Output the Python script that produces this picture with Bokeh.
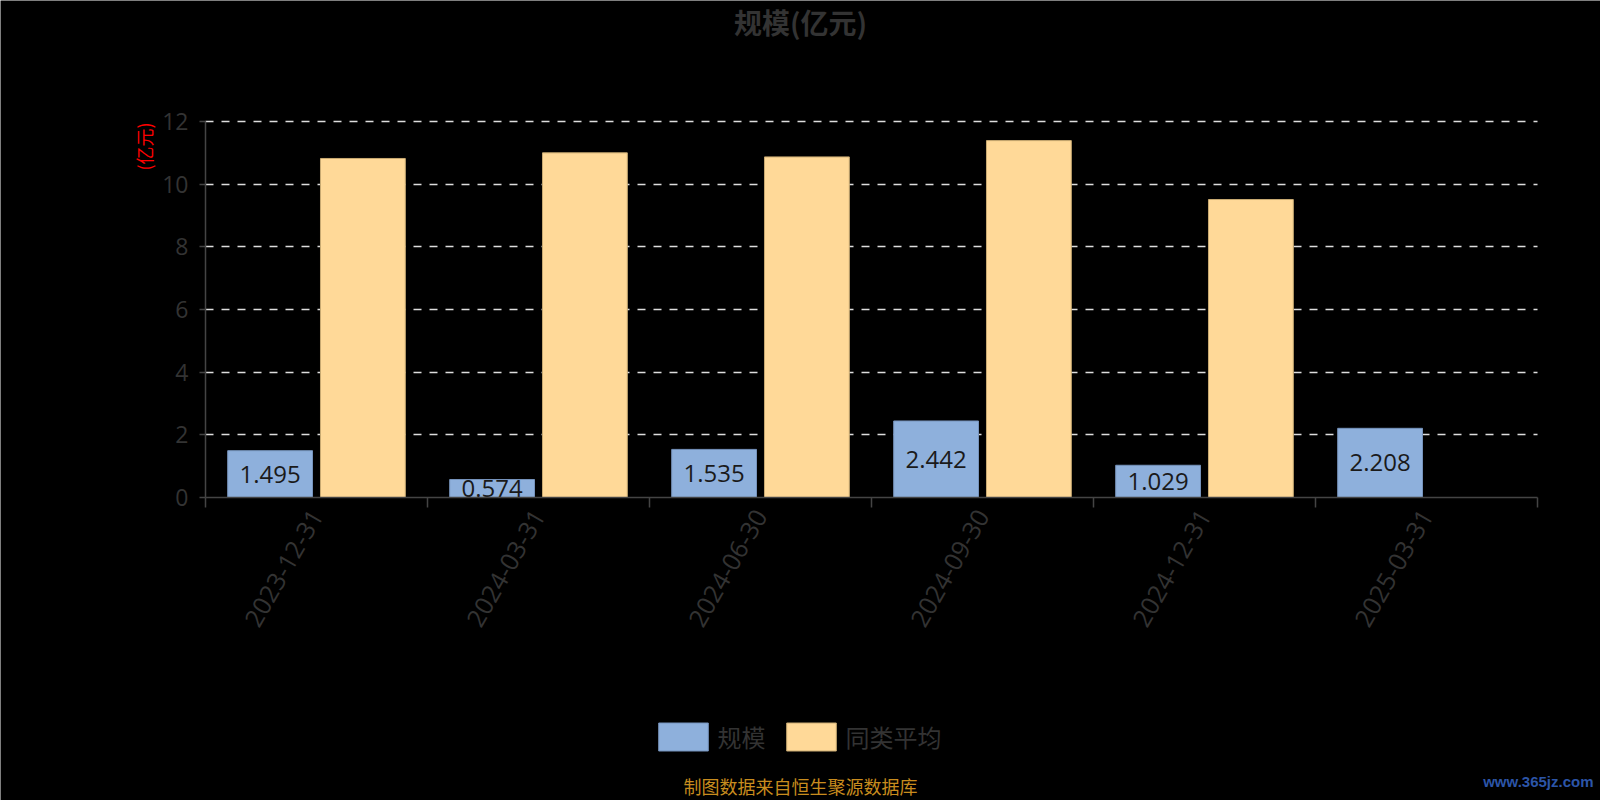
import math
from bokeh.plotting import figure
from bokeh.models import ColumnDataSource, Range1d, FixedTicker, Label, Legend, LegendItem
from bokeh.transform import dodge
from bokeh.core.properties import value
from bokeh.embed import file_html
from bokeh.resources import INLINE

# ---------------- data ----------------
dates = ["2023-12-31", "2024-03-31", "2024-06-30", "2024-09-30", "2024-12-31", "2025-03-31"]
scale_values = [1.495, 0.574, 1.535, 2.442, 1.029, 2.208]
peer_average = [10.82, 11.00, 10.87, 11.39, 9.51, float("nan")]
y_tick_values = [0, 2, 4, 6, 8, 10, 12]
grid_values = [2, 4, 6, 8, 10, 12]
series_names = ["规模", "同类平均"]
title_text = "规模(亿元)"
unit_text = "(亿元)"
footer_text = "制图数据来自恒生聚源数据库"
watermark_text = "www.365jz.com"

# ---------------- layout ----------------
W, H = 1600, 800
L, R, T, B = 205, 1537, 121, 497      # plot area in canvas pixels
n = len(dates)
YMAX = 12
xpp = (R - L) / n                      # pixels per category
ypp = (B - T) / YMAX                   # pixels per unit

def dx(px):
    return (px - L) / xpp

def dy(py):
    return (B - py) / ypp

BLUE = "#8eb0dc"
YELLOW = "#ffd998"
GRAY = "#333333"
AXIS = "#444444"
CJK = "Noto Sans CJK SC"
LAT = "Open Sans"

centers = [i + 0.5 for i in range(n)]
src = ColumnDataSource(dict(
    x=centers,
    scale=scale_values,
    peer=peer_average,
    mid=[v / 2 for v in scale_values],
    lbl=[f"{v:.3f}" for v in scale_values],
))

# the frame spans the whole canvas; axes are pinned at the data origin
p = figure(width=W, height=H,
           x_range=Range1d(dx(0), dx(W)), y_range=Range1d(dy(H), dy(0)),
           output_backend="svg", toolbar_location=None,
           min_border_left=0, min_border_right=0, min_border_top=0, min_border_bottom=0,
           background_fill_color="black", border_fill_color="black")
p.outline_line_color = None

BW = 0.382
OFF = 0.209
r1 = p.vbar(x=dodge("x", -OFF), top="scale", bottom=0, width=BW, source=src,
            fill_color=BLUE, line_color="#7592bb", line_width=1)
r2 = p.vbar(x=dodge("x", OFF), top="peer", bottom=0, width=BW, source=src,
            fill_color=YELLOW, line_color="#c9aa72", line_width=1)

p.text(x=dodge("x", -OFF), y="mid", text="lbl", source=src,
       text_align="center", text_baseline="middle",
       text_font=value(LAT), text_font_size="24px", text_color="#1a1a1a")

# axes
xa = p.xaxis[0]
xa.fixed_location = 0
xa.bounds = (0, n)
xa.ticker = FixedTicker(ticks=centers, minor_ticks=list(range(n + 1)))
xa.major_label_overrides = {c: d for c, d in zip(centers, dates)}
xa.major_label_orientation = math.pi / 3
xa.major_label_text_font = LAT
xa.major_label_text_font_size = "25px"
xa.major_label_text_color = GRAY
xa.major_label_standoff = 4
xa.major_tick_line_color = None
xa.major_tick_out = 0
xa.major_tick_in = 0
xa.minor_tick_out = 10
xa.minor_tick_in = 0
xa.minor_tick_line_color = AXIS
xa.minor_tick_line_width = 1.5
xa.axis_line_color = AXIS
xa.axis_line_width = 1.5

ya = p.yaxis[0]
ya.fixed_location = 0
ya.bounds = (0, YMAX)
ya.ticker = FixedTicker(ticks=y_tick_values, minor_ticks=[])
ya.major_label_text_font = LAT
ya.major_label_text_font_size = "23px"
ya.major_label_text_color = GRAY
ya.major_label_standoff = 11
ya.major_tick_out = 6
ya.major_tick_in = 0
ya.major_tick_line_color = AXIS
ya.major_tick_line_width = 1.5
ya.minor_tick_line_color = None
ya.axis_line_color = AXIS
ya.axis_line_width = 1.5

p.xgrid.grid_line_color = None
yg = p.ygrid[0]
yg.ticker = FixedTicker(ticks=grid_values)
yg.bounds = (0, YMAX)
if "cross_bounds" in yg.properties():
    yg.cross_bounds = (0, n)
yg.grid_line_color = "#dddddd"
yg.grid_line_dash = "8 8"
yg.grid_line_width = 1.5

# legend (bokeh insets the swatch by 10% of the glyph box on each side)
legend = Legend(items=[LegendItem(label=series_names[0], renderers=[r1]),
                       LegendItem(label=series_names[1], renderers=[r2])],
                orientation="horizontal", location=(651.5, H - 753.5),
                glyph_width=62, glyph_height=35, label_standoff=4, spacing=14,
                padding=0, margin=0, border_line_color=None, background_fill_alpha=0,
                label_text_font=CJK, label_text_font_size="24px", label_text_color=GRAY,
                label_height=35)
p.add_layout(legend)

# texts
p.add_layout(Label(x=dx(800), y=dy(21), text=title_text, text_align="center", text_baseline="middle",
                   text_font=CJK, text_font_size="28px", text_font_style="bold", text_color=GRAY))
p.add_layout(Label(x=dx(143.5), y=dy(146), text=unit_text, angle=math.pi / 2, text_align="center",
                   text_baseline="middle", text_font=CJK, text_font_size="18px", text_color="#ff0000"))
p.add_layout(Label(x=dx(800), y=dy(785), text=footer_text, text_align="center", text_baseline="middle",
                   text_font=CJK, text_font_size="18px", text_color="#c88c1e"))
p.add_layout(Label(x=dx(1593), y=dy(781), text=watermark_text, text_align="right", text_baseline="middle",
                   text_font="Liberation Sans", text_font_size="15px", text_font_style="bold",
                   text_color="#2c55a8"))

open("out.html", "w").write(file_html(p, INLINE))
